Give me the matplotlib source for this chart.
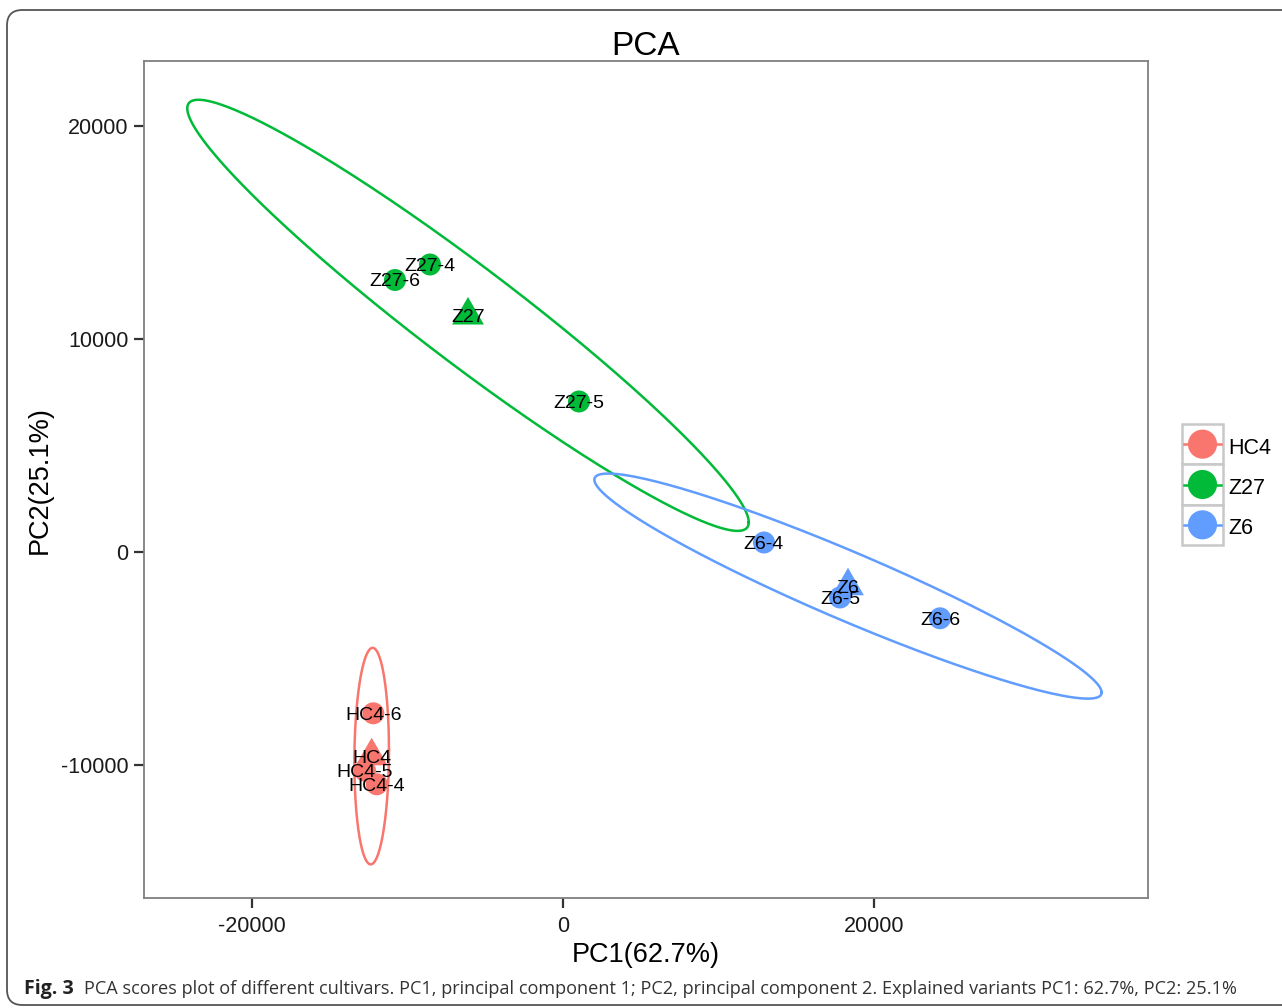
import numpy as np
import matplotlib
matplotlib.use("Agg")
import matplotlib.pyplot as plt
from matplotlib.patches import FancyBboxPatch, Rectangle
from matplotlib.markers import MarkerStyle

# ---------------- data ----------------
groups = ["HC4", "Z27", "Z6"]
group_colors = ["#F8766D", "#00BA38", "#619CFF"]
sample_labels = ["HC4-4", "HC4-5", "HC4-6",
                 "Z27-4", "Z27-5", "Z27-6",
                 "Z6-4", "Z6-5", "Z6-6"]
sample_group = ["HC4", "HC4", "HC4", "Z27", "Z27", "Z27", "Z6", "Z6", "Z6"]
pc1 = [-11981, -12733, -12200, -8553, 1029, -10804, 12926, 17814, 24245]
pc2 = [-10906, -10268, -7573, 13498, 7066, 12770, 446, -2136, -3113]
x_ticks = [-20000, 0, 20000]
y_ticks = [-10000, 0, 10000, 20000]
x_limits = [-26946, 37621]
y_limits = [-16245, 23052]
ellipse_level = 0.805

title = "PCA"
x_label = "PC1(62.7%)"
y_label = "PC2(25.1%)"
caption_bold = "Fig. 3"
caption_text = ("PCA scores plot of different cultivars. PC1, principal component 1; "
                "PC2, principal component 2. Explained variants PC1: 62.7%, PC2: 25.1%")

# ---------------- figure ----------------
W, H = 1282, 1008
DPI = 100
fig = plt.figure(figsize=(W / DPI, H / DPI), dpi=DPI)
plt.rcParams['font.family'] = ['Liberation Sans', 'DejaVu Sans']


def fx(x):
    return x / W


def fy(y):
    return 1 - y / H


# outer rounded border
border = FancyBboxPatch((fx(7), fy(1005)), fx(1320) - fx(7), fy(10) - fy(1005),
                        boxstyle="round,pad=0,rounding_size=0.012",
                        transform=fig.transFigure, fill=False,
                        edgecolor="#555555", linewidth=1.3, mutation_aspect=W / H)
fig.patches.append(border)

ax = fig.add_axes([fx(144), fy(898), fx(1148) - fx(144), fy(61) - fy(898)])
ax.set_xlim(x_limits)
ax.set_ylim(y_limits)
ax.set_xticks(x_ticks)
ax.set_yticks(y_ticks)
ax.set_xticklabels([str(v) for v in x_ticks])
ax.set_yticklabels([str(v) for v in y_ticks])
ax.tick_params(axis='both', direction='out', length=7, width=1.6, color="#333333",
               labelsize=15.5, labelcolor="#1a1a1a", pad=4)
ax.tick_params(axis='x', pad=6)
ax.tick_params(top=False, right=False)
for s in ax.spines.values():
    s.set_color("#7f7f7f")
    s.set_linewidth(1.3)

pc1a = np.array(pc1, dtype=float)
pc2a = np.array(pc2, dtype=float)
grp = np.array(sample_group)

tri = MarkerStyle([(0, 1), (-0.866, -0.5), (0.866, -0.5), (0, 1)])

for g, c in zip(groups, group_colors):
    m = grp == g
    X = np.vstack([pc1a[m], pc2a[m]])
    n = X.shape[1]
    mu = X.mean(axis=1)
    cov = np.cov(X)
    d = n - 1
    fq = d / 2.0 * ((1 - ellipse_level) ** (-2.0 / d) - 1)
    r = np.sqrt(2 * fq)
    L = np.linalg.cholesky(cov)
    t = np.linspace(0, 2 * np.pi, 361)
    E = mu[:, None] + r * L @ np.vstack([np.cos(t), np.sin(t)])
    ax.plot(E[0], E[1], color=c, lw=1.8, zorder=2)
    ax.scatter(pc1a[m], pc2a[m], s=250, color=c, edgecolors='none', zorder=3)
    ax.scatter([mu[0]], [mu[1]], s=700, marker=tri, color=c, edgecolors='none', zorder=3)
    ax.text(mu[0], mu[1], g, ha='center', va='center_baseline', fontsize=14,
            color='black', zorder=5)

for lab, x, y in zip(sample_labels, pc1a, pc2a):
    ax.text(x, y, lab, ha='center', va='center_baseline', fontsize=14,
            color='black', zorder=5)

# titles
fig.text(fx(646), fy(43), title, ha='center', va='center_baseline', fontsize=24,
         color='black')
fig.text(fx(646), fy(952), x_label, ha='center', va='center_baseline', fontsize=19.5,
         color='black')
fig.text(fx(40), fy(480), y_label, ha='center', va='center', fontsize=19.5,
         color='black', rotation=90)

# legend
lax = fig.add_axes([fx(1182), fy(545), fx(1223) - fx(1182), fy(424) - fy(545)])
lax.set_xlim(0, 1)
lax.set_ylim(0, 3)
lax.axis('off')
for i, (g, c) in enumerate(zip(groups, group_colors)):
    yc = 2.5 - i
    lax.add_patch(Rectangle((0, yc - 0.5), 1, 1, fill=True, facecolor='white',
                            edgecolor='#c8c8c8', lw=1.8, clip_on=False))
    lax.plot([0.05, 0.95], [yc, yc], color=c, lw=1.8, clip_on=False)
    lax.scatter([0.5], [yc], s=440, color=c, edgecolors='none', zorder=3, clip_on=False)
    fig.text(fx(1228), fy(446 + 40 * i), g, ha='left', va='center_baseline',
             fontsize=15.5, color='black')

# caption
cap_font = ['Open Sans', 'DejaVu Sans']
t1 = fig.text(fx(24), fy(989), caption_bold, ha='left', va='center', fontsize=13.5,
              fontweight='bold', family=cap_font, color='#222222')
t2 = fig.text(fx(84), fy(989), caption_text, ha='left', va='center', fontsize=13.5,
              family=cap_font, color='#333333')
fig.canvas.draw()
r = fig.canvas.get_renderer()
w2 = t2.get_window_extent(r).width
target = 1238 - 84
t2.set_fontsize(13.5 * target / w2)
w1 = t1.get_window_extent(r).width
t1.set_fontsize(13.5 * (74 - 24) / w1)

fig.savefig("out.png", dpi=DPI)
